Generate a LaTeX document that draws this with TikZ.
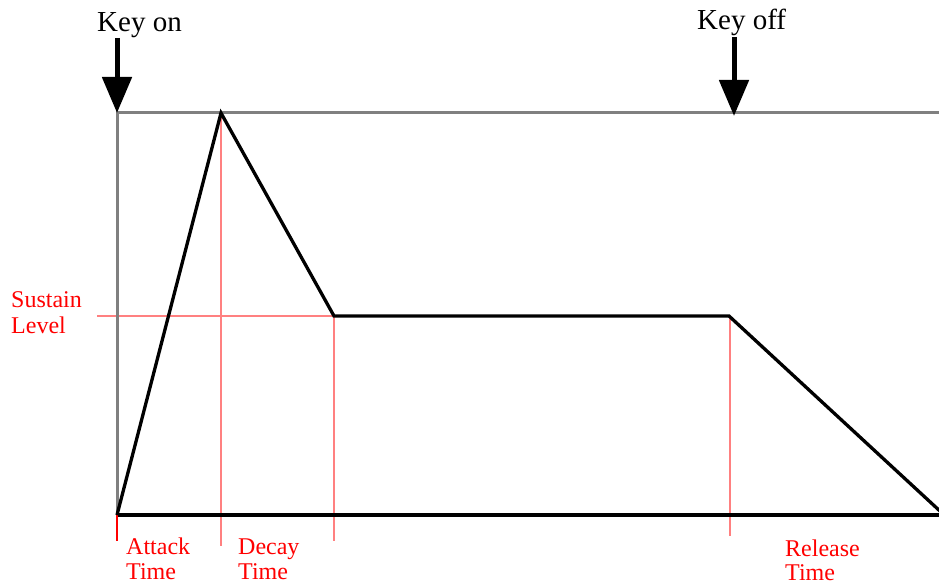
\documentclass[tikz,border=0pt]{standalone}
\usepackage{fontspec}
\newfontfamily\timesfont{Liberation Serif}[Scale=1.0]
\usetikzlibrary{arrows.meta}
\definecolor{axisgray}{RGB}{128,128,128}
\definecolor{guidepink}{RGB}{255,128,128}
\definecolor{labelred}{RGB}{255,0,0}
\begin{document}
\begin{tikzpicture}[x=1pt,y=-1pt,
  axisline/.style={draw=axisgray,line width=3pt},
  envline/.style={draw=black,line width=3.3pt,line join=miter},
  guideline/.style={draw=guidepink,line width=2.5pt},
  keyarrow/.style={draw=black,line width=5pt,-{Triangle[length=36pt,width=29pt]}},
  keylabel/.style={font=\timesfont\fontsize{29}{32}\selectfont,inner sep=0pt,anchor=base west},
  redlabel/.style={font=\timesfont\fontsize{24}{26}\selectfont,text=labelred,inner sep=0pt,anchor=base west}]
\useasboundingbox (0,0) rectangle (939,585);
% key points
\coordinate (origin) at (117,515);
\coordinate (topleft) at (117,113);
\coordinate (topright) at (939,113);
\coordinate (baseright) at (939,515);
\coordinate (peak) at (221,113);
\coordinate (decayend) at (334,316);
\coordinate (releasestart) at (729,316);
\coordinate (releaseend) at (941,512);
% guide ends
\coordinate (peakfoot) at (221,546);
\coordinate (decayfoot) at (334,541);
\coordinate (releasefoot) at (730,536);
\coordinate (originfoot) at (117,541);
\coordinate (sustainleft) at (97,316);
% arrows
\coordinate (keyontail) at (117,38);
\coordinate (keyontip) at (117,113);
\coordinate (keyofftail) at (734,37);
\coordinate (keyofftip) at (734,116);
% guides
\draw[guideline] (peak) -- (peakfoot);
\draw[guideline] (decayend) -- (decayfoot);
\draw[guideline] (releasestart) ++(1,0) -- (releasefoot);
\draw[guideline] (sustainleft) -- (decayend);
% axes
\draw[axisline] (topright) -- (topleft) -- (origin);
\draw[envline] (origin) -- (baseright);
\draw[draw=labelred,line width=2.5pt] (origin) -- (originfoot);
% envelope
\draw[envline] (origin) -- (peak) -- (decayend) -- (releasestart) -- (releaseend);
% key arrows
\draw[keyarrow] (keyontail) -- (keyontip);
\draw[keyarrow] (keyofftail) -- (keyofftip);
% labels
\node[keylabel] (keyon) at (97,32) {Key on};
\node[keylabel] (keyoff) at (697,30) {Key off};
\node[redlabel] (sustain1) at (11,307) {Sustain};
\node[redlabel] (sustain2) at (11,333) {Level};
\node[redlabel] (attack1) at (126,554) {Attack};
\node[redlabel] (attack2) at (126,579) {Time};
\node[redlabel] (decay1) at (238,554) {Decay};
\node[redlabel] (decay2) at (238,579) {Time};
\node[redlabel] (release1) at (785,556) {Release};
\node[redlabel] (release2) at (785,580) {Time};
\end{tikzpicture}
\end{document}
